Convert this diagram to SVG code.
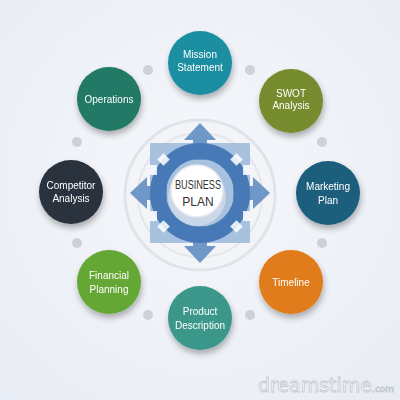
<svg xmlns="http://www.w3.org/2000/svg" width="400" height="400" viewBox="0 0 400 400">
<defs>
<filter id="sh" x="-40%" y="-40%" width="180%" height="190%">
<feGaussianBlur in="SourceAlpha" stdDeviation="3"/>
<feOffset dx="1" dy="4"/>
<feComponentTransfer><feFuncA type="linear" slope="0.3"/></feComponentTransfer>
<feMerge><feMergeNode/><feMergeNode in="SourceGraphic"/></feMerge>
</filter>
<radialGradient id="bg" cx="50%" cy="45%" r="70%">
<stop offset="0" stop-color="#f7f8fc"/><stop offset="1" stop-color="#e8ecf4"/>
</radialGradient>
</defs>
<style>
.n{filter:url(#sh)}
.t{font-family:"Liberation Sans",Arial,sans-serif;font-size:10px;fill:#ffffff;text-anchor:middle}
.dot{fill:#cfd1d6}
.c{font-family:"Liberation Sans",Arial,sans-serif;font-size:12px;fill:#333;text-anchor:middle}
</style>
<rect width="400" height="400" fill="url(#bg)"/>
<g id="connectors">
<circle class="dot" cx="148" cy="70" r="5"/>
<circle class="dot" cx="250" cy="70" r="5"/>
<circle class="dot" cx="322" cy="142" r="5"/>
<circle class="dot" cx="322" cy="243" r="5"/>
<circle class="dot" cx="250" cy="315" r="5"/>
<circle class="dot" cx="148" cy="315" r="5"/>
<circle class="dot" cx="77" cy="243" r="5"/>
<circle class="dot" cx="77" cy="142" r="5"/>
</g>
<g id="center">
<circle cx="200" cy="195" r="75" fill="#f2f4f8" stroke="#dfe3ea" stroke-width="3"/>
<circle cx="200" cy="195" r="62" fill="none" stroke="#e3e6ec" stroke-width="2"/>
<rect x="150" y="143" width="100" height="100" fill="#8fb0d6" opacity="0.75"/>
<g fill="#6f98c9">
<polygon points="200,123 216,140 207,140 207,160 193,160 193,140 184,140"/>
<polygon points="200,263 216,246 207,246 207,226 193,226 193,246 184,246"/>
<polygon points="130,193 147,177 147,186 167,186 167,200 147,200 147,209"/>
<polygon points="270,193 253,177 253,186 233,186 233,200 253,200 253,209"/>
</g>
<circle cx="200" cy="193" r="42" fill="none" stroke="#4679b5" stroke-width="16"/>
<g fill="#ffffff" opacity="0.85">
<rect x="159" y="155" width="9" height="9" transform="rotate(45 163.5 159.5)"/>
<rect x="232" y="155" width="9" height="9" transform="rotate(45 236.5 159.5)"/>
<rect x="159" y="222" width="9" height="9" transform="rotate(45 163.5 226.5)"/>
<rect x="232" y="222" width="9" height="9" transform="rotate(45 236.5 226.5)"/>
<rect x="243" y="165" width="7" height="10"/>
<rect x="243" y="211" width="7" height="10"/>
<rect x="150" y="211" width="7" height="10"/>
<rect x="150" y="165" width="7" height="10"/>
</g>
<circle cx="197" cy="197" r="29" fill="#dfe6ef" opacity="0.6"/>
<circle cx="197" cy="191" r="26" fill="#ffffff" stroke="#e6e9ee" stroke-width="1.5"/>
<text class="c" x="198" y="189" textLength="46" lengthAdjust="spacingAndGlyphs">BUSINESS</text>
<text class="c" x="198" y="206">PLAN</text>
</g>
<g id="mission" class="n"><circle cx="200" cy="63" r="32" fill="#1a8ea2"/><text class="t" x="200" y="58">Mission</text><text class="t" x="200" y="71">Statement</text></g>
<g id="swot" class="n"><circle cx="291" cy="101" r="32" fill="#778c2f"/><text class="t" x="291" y="97">SWOT</text><text class="t" x="291" y="109">Analysis</text></g>
<g id="marketing" class="n"><circle cx="328" cy="193" r="32" fill="#1f5f7d"/><text class="t" x="328" y="190">Marketing</text><text class="t" x="328" y="204">Plan</text></g>
<g id="timeline" class="n"><circle cx="291" cy="282" r="32" fill="#e07c1a"/><text class="t" x="291" y="286">Timeline</text></g>
<g id="product" class="n"><circle cx="200" cy="318" r="32" fill="#3a978a"/><text class="t" x="200" y="315">Product</text><text class="t" x="200" y="329">Description</text></g>
<g id="financial" class="n"><circle cx="109" cy="282" r="32" fill="#65a736"/><text class="t" x="109" y="279">Financial</text><text class="t" x="109" y="293">Planning</text></g>
<g id="competitor" class="n"><circle cx="71" cy="192" r="32" fill="#29333d"/><text class="t" x="71" y="189">Competitor</text><text class="t" x="71" y="202">Analysis</text></g>
<g id="operations" class="n"><circle cx="109" cy="99" r="32" fill="#217966"/><text class="t" x="109" y="103">Operations</text></g>
<text x="326" y="392" font-family="'DejaVu Sans',sans-serif" font-size="19" fill="#ffffff" stroke="#c4c8cf" stroke-width="0.8" text-anchor="middle">dreamstime<tspan font-size="9">.com</tspan></text>
</svg>
